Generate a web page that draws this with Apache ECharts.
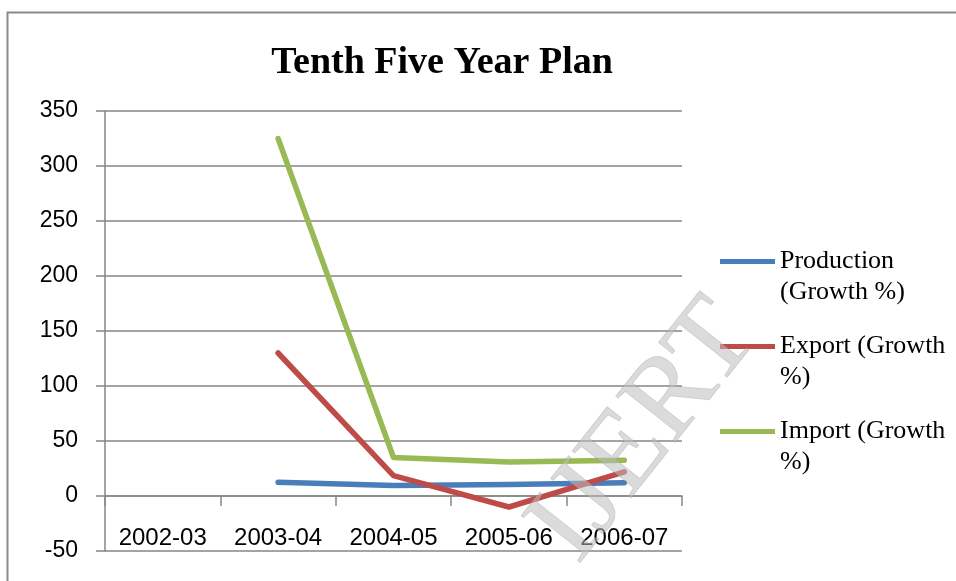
<!DOCTYPE html>
<html>
<head>
<meta charset="utf-8">
<script src="https://cdn.jsdelivr.net/npm/echarts@6/dist/echarts.min.js"></script>
<style>html,body{margin:0;padding:0;background:#fff}#c{width:956px;height:581px}</style>
</head>
<body>
<div id="c"></div>
<script>
const categories = ['2002-03', '2003-04', '2004-05', '2005-06', '2006-07'];
const production = [null, 12.5, 9.5, 10.5, 12];
const exportGrowth = [null, 130, 18.5, -10, 22];
const importGrowth = [null, 325, 35, 31, 32.5];
const seriesNames = ['Production (Growth %)', 'Export (Growth %)', 'Import (Growth %)'];
const legendLabels = ['Production\n(Growth %)', 'Export (Growth\n%)', 'Import (Growth\n%)'];
const colors = ['#4A7EBB', '#BE4B48', '#98B954'];

const chart = echarts.init(document.getElementById('c'), null, {renderer: 'canvas'});
const axisColor = '#868686';
const legendTops = [262, 347, 432];

function mkSeries(name, data, color) {
  return {
    name: name, type: 'line', data: data, symbol: 'none', showSymbol: false,
    connectNulls: false, color: color,
    lineStyle: {color: color, width: 5.5, cap: 'round', join: 'round'},
    itemStyle: {color: color}
  };
}

chart.setOption({
  animation: false,
  backgroundColor: '#fff',
  title: {
    text: 'Tenth Five Year Plan', left: 437, top: 39, textAlign: 'center',
    textStyle: {fontFamily: 'Liberation Serif', fontWeight: 'bold', fontSize: 38, color: '#000'}
  },
  grid: {left: 105, right: 274, top: 111, bottom: 30, containLabel: false, outerBoundsMode: 'none'},
  legend: seriesNames.map((n, i) => ({
    data: [n], orient: 'vertical', left: 720, top: legendTops[i] - 47, padding: 0,
    icon: 'rect', itemWidth: 55, itemHeight: 5,
    formatter: () => '\n' + legendLabels[i],
    textStyle: {fontFamily: 'Liberation Serif', fontSize: 26, color: '#000', lineHeight: 31},
    selectedMode: false
  })),
  xAxis: {
    type: 'category', data: categories, boundaryGap: true,
    axisLine: {onZero: true, lineStyle: {color: axisColor, width: 1.5}},
    axisTick: {show: true, length: 10, alignWithLabel: false, lineStyle: {color: axisColor, width: 1.5}},
    axisLabel: {interval: 0, fontFamily: 'Liberation Sans', fontSize: 24, color: '#000', margin: -25},
    splitLine: {show: false}
  },
  yAxis: {
    type: 'value', min: -50, max: 350, interval: 50,
    axisLine: {show: true, lineStyle: {color: axisColor, width: 1.5}},
    axisTick: {show: true, length: 9, lineStyle: {color: axisColor, width: 1.5}},
    axisLabel: {fontFamily: 'Liberation Sans', fontSize: 23, color: '#000', margin: 27},
    splitLine: {show: true, lineStyle: {color: axisColor, width: 1.5}}
  },
  series: [
    mkSeries(seriesNames[0], production, colors[0]),
    mkSeries(seriesNames[1], exportGrowth, colors[1]),
    mkSeries(seriesNames[2], importGrowth, colors[2])
  ],
  graphic: [
    {type: 'rect', left: 5, top: 10, z: -10, silent: true,
     shape: {width: 1000, height: 1000},
     style: {fill: 'none', stroke: '#8a8a8a', lineWidth: 2}},
    {type: 'text', x: 645, y: 432, rotation: 0.9, z: 100, silent: true,
     style: {text: 'IJERT', font: '115px "Liberation Serif"', fill: 'rgba(190,190,190,0.55)',
             stroke: 'rgba(150,150,150,0.35)', lineWidth: 1, align: 'center', verticalAlign: 'middle'}}
  ]
});
</script>
</body>
</html>
